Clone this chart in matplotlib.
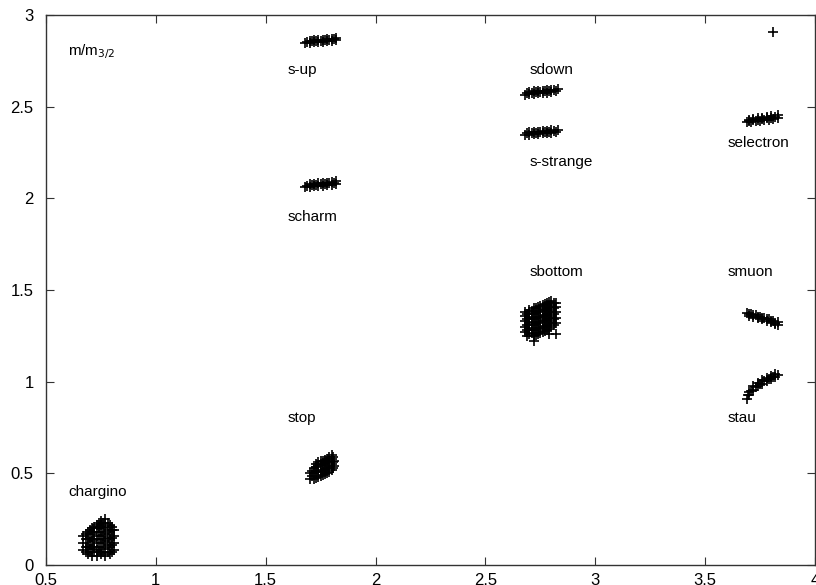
import matplotlib
matplotlib.use("Agg")
import matplotlib.pyplot as plt

# sparticle masses in units of m_3/2, one cluster of scan points per state
chargino = [(0.67, 0.08), (0.67, 0.12), (0.67, 0.16),
            (0.68, 0.07), (0.68, 0.10), (0.68, 0.14), (0.68, 0.17),
            (0.69, 0.06), (0.69, 0.10), (0.69, 0.14), (0.69, 0.18),
            (0.70, 0.07), (0.70, 0.11), (0.70, 0.15), (0.70, 0.19),
            (0.71, 0.05), (0.71, 0.09), (0.71, 0.13), (0.71, 0.17), (0.71, 0.20),
            (0.72, 0.07), (0.72, 0.10), (0.72, 0.14), (0.72, 0.18), (0.72, 0.21),
            (0.73, 0.05), (0.73, 0.08), (0.73, 0.12), (0.73, 0.16), (0.73, 0.20), (0.73, 0.22),
            (0.74, 0.07), (0.74, 0.10), (0.74, 0.14), (0.74, 0.18), (0.74, 0.21), (0.74, 0.23),
            (0.75, 0.06), (0.75, 0.10), (0.75, 0.14), (0.75, 0.18), (0.75, 0.22), (0.75, 0.24),
            (0.76, 0.07), (0.76, 0.12), (0.76, 0.16), (0.76, 0.20), (0.76, 0.23),
            (0.77, 0.05), (0.77, 0.09), (0.77, 0.13), (0.77, 0.17), (0.77, 0.21), (0.77, 0.25),
            (0.78, 0.07), (0.78, 0.11), (0.78, 0.15), (0.78, 0.19), (0.78, 0.23),
            (0.79, 0.06), (0.79, 0.10), (0.79, 0.14), (0.79, 0.18), (0.79, 0.22),
            (0.80, 0.07), (0.80, 0.11), (0.80, 0.15), (0.80, 0.19), (0.80, 0.21),
            (0.81, 0.08), (0.81, 0.12), (0.81, 0.16), (0.81, 0.19)]

stop = [(1.70, 0.47), (1.70, 0.50),
        (1.71, 0.485), (1.71, 0.515),
        (1.72, 0.47), (1.72, 0.50), (1.72, 0.53),
        (1.73, 0.475), (1.73, 0.505), (1.73, 0.535), (1.73, 0.55),
        (1.74, 0.48), (1.74, 0.51), (1.74, 0.54), (1.74, 0.56),
        (1.75, 0.485), (1.75, 0.515), (1.75, 0.545), (1.75, 0.565),
        (1.76, 0.49), (1.76, 0.52), (1.76, 0.55), (1.76, 0.57),
        (1.77, 0.495), (1.77, 0.525), (1.77, 0.555), (1.77, 0.575),
        (1.78, 0.50), (1.78, 0.53), (1.78, 0.56), (1.78, 0.58),
        (1.79, 0.51), (1.79, 0.54), (1.79, 0.57), (1.79, 0.59),
        (1.80, 0.52), (1.80, 0.55), (1.80, 0.58), (1.80, 0.60),
        (1.805, 0.53), (1.805, 0.56), (1.805, 0.59),
        (1.81, 0.54), (1.81, 0.57)]

scharm = [(1.68, 2.060), (1.70, 2.063), (1.72, 2.066), (1.74, 2.068),
          (1.76, 2.070), (1.78, 2.072), (1.80, 2.075), (1.82, 2.080),
          (1.69, 2.068), (1.71, 2.071), (1.73, 2.074), (1.75, 2.076),
          (1.77, 2.078), (1.79, 2.081), (1.81, 2.084),
          (1.70, 2.076), (1.72, 2.079), (1.74, 2.081), (1.76, 2.083),
          (1.78, 2.086), (1.80, 2.089), (1.82, 2.092)]

sup = [(1.68, 2.845), (1.70, 2.848), (1.72, 2.851), (1.74, 2.853),
       (1.76, 2.855), (1.78, 2.857), (1.80, 2.860), (1.82, 2.864),
       (1.69, 2.853), (1.71, 2.856), (1.73, 2.858), (1.75, 2.860),
       (1.77, 2.862), (1.79, 2.865), (1.81, 2.868),
       (1.70, 2.859), (1.72, 2.862), (1.74, 2.864), (1.76, 2.866),
       (1.78, 2.868), (1.80, 2.871), (1.82, 2.874)]

sdown = [(2.68, 2.565), (2.70, 2.568), (2.72, 2.571), (2.74, 2.573),
         (2.76, 2.575), (2.78, 2.577), (2.80, 2.580), (2.82, 2.584),
         (2.69, 2.574), (2.71, 2.577), (2.73, 2.579), (2.75, 2.581),
         (2.77, 2.583), (2.79, 2.586), (2.81, 2.589),
         (2.70, 2.580), (2.72, 2.583), (2.74, 2.585), (2.76, 2.587),
         (2.78, 2.589), (2.80, 2.592), (2.83, 2.597)]

sstrange = [(2.68, 2.345), (2.70, 2.348), (2.72, 2.350), (2.74, 2.352),
            (2.76, 2.354), (2.78, 2.356), (2.80, 2.358), (2.82, 2.362),
            (2.69, 2.354), (2.71, 2.356), (2.73, 2.358), (2.75, 2.360),
            (2.77, 2.362), (2.79, 2.364), (2.81, 2.367),
            (2.70, 2.360), (2.72, 2.362), (2.74, 2.364), (2.76, 2.366),
            (2.78, 2.368), (2.80, 2.371), (2.83, 2.375)]

sbottom = [(2.68, 1.27), (2.68, 1.30), (2.68, 1.33), (2.68, 1.36), (2.68, 1.38),
           (2.69, 1.28), (2.69, 1.31), (2.69, 1.34), (2.69, 1.37),
           (2.70, 1.26), (2.70, 1.29), (2.70, 1.32), (2.70, 1.35), (2.70, 1.38), (2.70, 1.39),
           (2.71, 1.265), (2.71, 1.295), (2.71, 1.325), (2.71, 1.355), (2.71, 1.385),
           (2.72, 1.25), (2.72, 1.28), (2.72, 1.31), (2.72, 1.34), (2.72, 1.37), (2.72, 1.40),
           (2.73, 1.255), (2.73, 1.285), (2.73, 1.315), (2.73, 1.345), (2.73, 1.375), (2.73, 1.40),
           (2.74, 1.26), (2.74, 1.29), (2.74, 1.32), (2.74, 1.35), (2.74, 1.38), (2.74, 1.41),
           (2.75, 1.265), (2.75, 1.295), (2.75, 1.325), (2.75, 1.355), (2.75, 1.385), (2.75, 1.415),
           (2.76, 1.27), (2.76, 1.30), (2.76, 1.33), (2.76, 1.36), (2.76, 1.39), (2.76, 1.42),
           (2.77, 1.275), (2.77, 1.305), (2.77, 1.335), (2.77, 1.365), (2.77, 1.395), (2.77, 1.425),
           (2.78, 1.28), (2.78, 1.31), (2.78, 1.34), (2.78, 1.37), (2.78, 1.40), (2.78, 1.43),
           (2.79, 1.29), (2.79, 1.32), (2.79, 1.35), (2.79, 1.38), (2.79, 1.41), (2.79, 1.435),
           (2.80, 1.30), (2.80, 1.33), (2.80, 1.36), (2.80, 1.39), (2.80, 1.42), (2.80, 1.44),
           (2.81, 1.31), (2.81, 1.34), (2.81, 1.37), (2.81, 1.40), (2.81, 1.43),
           (2.82, 1.32), (2.82, 1.35), (2.82, 1.38), (2.82, 1.41), (2.82, 1.43),
           (2.69, 1.25), (2.72, 1.22), (2.79, 1.26), (2.82, 1.26)]

selectron = [(3.69, 2.415), (3.71, 2.418), (3.73, 2.421), (3.75, 2.424),
             (3.77, 2.427), (3.79, 2.430), (3.81, 2.434), (3.83, 2.440),
             (3.70, 2.421), (3.72, 2.425), (3.74, 2.429), (3.76, 2.432),
             (3.78, 2.436), (3.80, 2.440), (3.82, 2.446),
             (3.70, 2.428), (3.72, 2.432), (3.74, 2.436), (3.76, 2.440),
             (3.78, 2.444), (3.80, 2.448), (3.83, 2.455),
             (3.81, 2.91)]

smuon = [(3.69, 1.375), (3.71, 1.368), (3.73, 1.362), (3.75, 1.355),
         (3.77, 1.348), (3.79, 1.340), (3.81, 1.332), (3.83, 1.325),
         (3.70, 1.368), (3.72, 1.361), (3.74, 1.354), (3.76, 1.347),
         (3.78, 1.340), (3.80, 1.331), (3.82, 1.322),
         (3.70, 1.360), (3.72, 1.353), (3.74, 1.347), (3.76, 1.340),
         (3.78, 1.333), (3.80, 1.325), (3.82, 1.315), (3.83, 1.308)]

stau = [(3.69, 0.905), (3.70, 0.925), (3.72, 0.955), (3.74, 0.975),
        (3.76, 0.990), (3.78, 1.005), (3.80, 1.015), (3.82, 1.025), (3.83, 1.035),
        (3.695, 0.925), (3.71, 0.950), (3.73, 0.970), (3.75, 0.990),
        (3.77, 1.005), (3.79, 1.017), (3.81, 1.027),
        (3.70, 0.945), (3.72, 0.975), (3.74, 0.995), (3.76, 1.010),
        (3.78, 1.022), (3.80, 1.032), (3.82, 1.040)]

clusters = [chargino, stop, scharm, sup, sdown, sstrange,
            sbottom, selectron, smuon, stau]

# in-plot labels, left-aligned at (x, y)
label_x = [0.6, 1.6, 1.6, 1.6, 2.7, 2.7, 2.7, 3.6, 3.6, 3.6]
label_y = [0.4, 0.8, 1.9, 2.7, 2.7, 2.2, 1.6, 2.3, 1.6, 0.8]
label_text = ["chargino", "stop", "scharm", "s-up", "sdown", "s-strange",
              "sbottom", "selectron", "smuon", "stau"]

xticks = [0.5, 1, 1.5, 2, 2.5, 3, 3.5, 4]
xtick_labels = ["0.5", "1", "1.5", "2", "2.5", "3", "3.5", "4"]
yticks = [0, 0.5, 1, 1.5, 2, 2.5, 3]
ytick_labels = ["0", "0.5", "1", "1.5", "2", "2.5", "3"]

plt.rcParams["font.family"] = ["Liberation Sans", "DejaVu Sans"]

fig = plt.figure(figsize=(8.16, 5.85), dpi=100)
ax = fig.add_axes([46 / 816, 20 / 585, 769 / 816, 550 / 585])

for pts in clusters:
    xs, ys = zip(*pts)
    ax.plot(xs, ys, linestyle="none", marker="+", markersize=7,
            markeredgewidth=1.2, color="black")

for x, y, t in zip(label_x, label_y, label_text):
    ax.text(x, y, t, fontsize=11, ha="left", va="center")
ax.text(0.6, 2.8, r"m/m$_{3/2}$", fontsize=11, ha="left", va="center")

ax.set_xlim(0.5, 4)
ax.set_ylim(0, 3)
ax.set_xticks(xticks)
ax.set_yticks(yticks)
ax.set_xticklabels(xtick_labels)
ax.set_yticklabels(ytick_labels)
ax.tick_params(direction="in", length=6, width=0.8, top=True, right=True,
               labelsize=12, color="#333333")
ax.tick_params(axis="x", pad=6)
ax.tick_params(axis="y", pad=9)
for s in ax.spines.values():
    s.set_linewidth(1.0)
    s.set_color("#333333")

fig.savefig("out.png", dpi=100)
